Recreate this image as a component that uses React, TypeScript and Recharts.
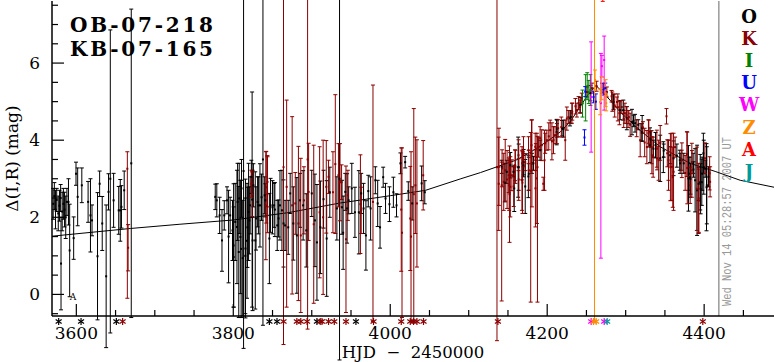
import React from 'react';
import { ComposedChart, Scatter, Line, XAxis, YAxis, ErrorBar, ReferenceLine } from 'recharts';

type Err = number | [number, number];
type Obs = [number, number, Err];

const X_DOMAIN: [number, number] = [3569, 4489];
const Y_DOMAIN: [number, number] = [-0.56, 7.61];

const X_MAJOR = [3600, 3800, 4000, 4200, 4400];
const X_MINOR = [3650, 3700, 3750, 3850, 3900, 3950, 4050, 4100, 4150, 4250, 4300, 4350, 4450];
const Y_MAJOR = [0, 2, 4, 6];
const Y_MINOR = [-0.5, 0.5, 1, 1.5, 2.5, 3, 3.5, 4.5, 5, 5.5, 6.5, 7, 7.5];

const TITLE_LINES = ['OB-07-218', 'KB-07-165'];
const X_LABEL = 'HJD  \u2212  2450000';
const Y_LABEL = '\u0394(I,R) (mag)';
const TIMESTAMP = 'Wed Nov 14 05:28:57 2007 UT';
const NOW_HJD = 4418.7;

const SERIES_KEYS = ['O', 'K', 'I', 'U', 'W', 'Z', 'A', 'J'];
const SERIES_COLORS: Record<string, string> = {
  O: '#000000', K: '#8b0000', I: '#008000', U: '#0000ff',
  W: '#ff00ff', Z: '#ff8c00', A: '#ff0000', J: '#009a9a',
};

// OGLE (O)
const OBS_O: Obs[] = [
  [3570.5, 2.35, 0.4], [3572, 2.55, 0.35], [3573.5, 2.2, 0.5], [3575, 2.45, 0.3], [3577, 2.1, 0.45],
  [3578.5, 2.3, 0.4], [3580, 2.5, 0.35], [3580.5, 0.8, 1.2], [3582, 2.15, 0.5], [3583.5, 2.35, 0.4],
  [3585, 2.2, 0.45], [3586.5, 2.0, 0.55], [3588, 2.4, 0.35], [3590, 2.4, 0.6], [3591.5, 1.14, 1.2],
  [3596.6, 1.46, 0.55], [3599.6, 3.13, 0.3], [3601.7, 2.53, 0.75], [3607, 2.83, 0.45], [3615, 2.4, 0.53],
  [3618, 2.05, 0.95], [3620, 1.92, 0.4], [3627, 0.99, 1.65], [3629.7, 2.87, 0.33], [3633, 1.84, 0.7],
  [3638, 0.47, 1.85], [3641, 2.66, 0.47], [3643.3, 3.0, [4.0, 3.86]], [3647.5, 2.44, 0.7], [3654, 2.18, 0.62],
  [3656, 2.18, 0.8], [3657.5, 2.27, 0.55], [3661, 2.7, 0.5], [3670, 3.4, 4.0],
  [3777, 2.53, 0.33], [3779, 2.44, 0.43], [3782.6, 2.05, 0.47], [3785.6, 1.4, 0.8], [3788.5, 2.05, 0.38],
  [3792, 2.44, 0.35], [3794, 1.5, 1.2], [3796, 2.05, 0.47], [3799, 1.66, 0.78], [3800.4, 1.27, 1.6],
  [3800.5, 0.97, 1.3], [3802.5, 1.88, 1.0], [3804.7, 1.75, 1.47], [3805.5, 2.4, 1.0], [3807, 1.1, 1.7],
  [3807.6, 2.49, 0.91], [3809, 1.49, 1.47], [3810, 1.18, 1.78], [3810.5, 2.75, 0.75], [3812, 0.94, 1.5],
  [3813.1, 3.2, 4.6], [3815.3, 1.0, 1.5], [3815.5, 1.19, 1.8], [3817.5, 1.39, 1.49], [3818, 1.74, 1.04],
  [3819.5, 2.14, 1.26], [3820.5, 1.92, 0.87], [3821.5, 2.31, 0.74], [3823, 3.05, 0.43], [3824, 2.46, 2.79],
  [3824.6, 1.4, 1.82], [3825.6, 2.83, 0.56], [3828, 1.4, 1.78], [3829, 1.97, 0.82], [3831, 2.4, 0.65],
  [3832, 2.31, 0.74], [3834, 2.31, 1.08], [3836, 2.52, 0.6], [3837.8, 3.5, 4.3], [3840, 2.57, 0.48],
  [3840.8, 2.44, 0.43], [3846, 1.45, 1.17], [3847.5, 2.31, 0.7], [3850, 2.26, 0.69], [3852, 2.31, 0.57],
  [3853, 2.2, 0.7], [3856, 1.79, 0.65], [3857.7, 1.97, 0.48], [3859.5, 2.31, 0.9], [3862, 2.18, 1.04],
  [3864, 1.84, 1.13], [3866, 1.79, 0.65], [3870, 1.74, 0.7], [3872.5, 2.62, 0.52],
  [3876.5, 1.84, 0.95], [3881, 1.53, 1.5], [3885, 2.44, 0.7], [3889, 2.31, 0.9], [3893, 1.66, 0.95],
  [3900, 2.62, 0.6], [3904, 1.92, 1.2], [3906.6, 1.35, 1.5], [3911, 1.74, 1.2], [3915, 2.47, 0.75],
  [3919, 1.45, 1.5], [3923, 2.65, 0.65], [3932, 2.23, 0.82], [3935.4, 3.0, 4.7], [3938.5, 2.26, 0.7],
  [3940, 1.6, 0.95], [3942.7, 2.66, 0.48], [3945, 2.23, 0.9], [3947, 2.44, 0.35], [3951, 2.75, 0.65],
  [3955, 2.13, 0.65], [3960, 2.13, 1.08], [3963, 2.62, 0.52], [3966, 2.23, 0.65], [3969, 1.53, 0.9],
  [3972, 2.68, 0.41], [3975, 2.23, 0.82], [3981, 2.96, 0.35], [3984, 2.36, 0.6], [3987, 1.74, 0.54],
  [3991, 3.04, 0.26], [3994, 2.49, 0.39], [3999, 2.34, 0.45], [4004, 2.65, 0.39], [4008, 2.31, 0.3],
  [4013, 3.4, 0.27], [4019, 3.43, 0.15], [4023, 2.68, 0.24], [4028, 2.36, 0.43], [4040, 2.88, 0.45],
  [4044, 2.65, 0.3],
  [4142, 3.31, 0.17], [4146, 2.9, 0.5], [4148.5, 3.18, 0.3], [4153, 3.35, 0.33], [4157, 3.18, 0.13],
  [4158, 2.75, 0.6], [4163, 3.3, 0.78], [4163.7, 3.3, 0.6], [4169.8, 3.35, 0.3], [4170, 3.43, 0.33],
  [4172, 2.8, 0.7], [4176, 3.06, 0.55], [4176.5, 3.13, 0.43], [4180.5, 3.4, 0.26], [4182.5, 3.4, 0.18],
  [4191, 3.74, 0.26], [4212, 4.21, 0.33], [4212.4, 4.3, 0.22], [4219, 4.31, 0.2], [4220.9, 4.3, 0.22],
  [4229, 4.57, 0.2], [4230, 4.6, 0.17], [4242, 4.91, 0.2], [4255, 5.22, 0.2], [4284.5, 4.99, 0.2],
  [4293, 4.78, 0.25], [4297, 4.78, 0.26], [4301.5, 4.57, 0.3], [4308, 4.47, 0.33], [4310, 4.5, 0.15],
  [4312, 4.44, 0.23], [4316, 4.4, 0.13], [4320.6, 4.2, 0.23], [4321, 4.31, 0.33], [4331, 3.87, 0.45],
  [4331.5, 4.02, 0.2], [4335.4, 3.78, 0.22], [4338, 3.87, 0.33], [4344, 3.53, 0.6], [4348, 3.56, 0.4],
  [4348.5, 3.73, 0.17], [4356.7, 3.61, 0.22], [4361, 3.53, 0.45], [4365.2, 3.6, 0.3], [4369, 3.48, 0.26],
  [4369.4, 3.4, 0.26], [4374, 3.4, 0.26], [4380, 3.01, 0.85], [4380.5, 3.13, 0.43], [4382, 3.04, 0.52],
  [4382.5, 3.0, 0.4], [4386, 3.4, 0.26], [4386.4, 3.24, 0.2], [4388.5, 2.96, 0.82], [4391, 2.7, 1.17],
  [4393, 2.87, 0.43], [4395, 2.91, 0.72], [4395.5, 2.74, 0.65], [4397, 2.91, 0.6], [4397.5, 3.13, 0.43],
  [4399, 3.66, 0.52], [4399.5, 3.3, 0.7], [4401.3, 3.26, 0.22], [4403, 2.78, 1.13], [4403.4, 2.83, 1.0],
  [4405.5, 3.05, 0.26],
];

// K
const OBS_K: Obs[] = [
  [3665, 3.26, [3.36, 0.44]], [3666, 1.21, 0.6],
  [3823, 2.87, 0.35], [3824, 2.6, 0.58], [3841.5, 2.3, 1.4], [3842, 2.78, 0.93], [3843.5, 2.6, 1.0],
  [3843.6, 2.92, 0.65], [3864, 3.3, 4.6], [3868, 2.79, [3.12, 2.25]],
  [3875, 2.31, 2.3], [3879, 2.36, 0.8], [3883, 1.84, 2.0], [3886, 1.53, 2.0], [3890, 2.44, 0.87],
  [3894.7, 3.5, 4.4], [3896, 2.66, 1.26], [3902.5, 1.82, 2.05], [3910, 2.13, 1.7], [3914.5, 2.0, 2.0],
  [3918.5, 2.79, 1.2], [3921.4, 3.05, 0.43], [3927, 2.65, 1.05], [3930, 3.38, 1.8], [3934, 3.09, 0.82],
  [3936, 2.91, 1.0], [3938, 2.91, 0.45], [3943.6, 1.43, 1.9], [3946, 2.57, 0.65], [3962, 2.34, 1.28],
  [3963, 2.18, 0.6], [3978, 2.4, [3.1, 3.03]], [4014, 2.2, 1.6], [4015, 1.6, 2.2], [4025.5, 1.97, 1.35],
  [4026.5, 1.5, 2.2], [4030, 2.6, [3.3, 2.22]], [4032, 2.83, 1.25], [4034, 2.36, 1.65], [4042, 3.09, 0.9],
  [4136, 3.3, [4.5, 4.6]], [4138.2, 2.87, 1.21], [4138.5, 3.31, 1.0], [4142, 2.83, [3.0, 0.6]],
  [4142.5, 3.27, 0.48], [4144.6, 2.92, 0.74], [4146.5, 3.22, 0.8], [4148.9, 2.98, 0.75], [4151, 3.09, 0.45],
  [4151.5, 2.83, 0.65], [4152, 2.6, 1.25], [4153, 2.79, 0.78], [4155, 3.09, 0.4], [4157.3, 2.8, 0.52],
  [4159, 3.35, 0.4], [4159.5, 3.31, 0.43], [4163.4, 3.61, 0.4], [4163.7, 2.98, 0.54], [4167.8, 2.96, 0.78],
  [4168, 3.4, 0.43], [4168.5, 2.9, 0.8], [4169.8, 3.7, 0.39], [4172, 3.43, 0.22], [4176.2, 3.74, 0.35],
  [4176.5, 3.22, 0.52], [4179, 3.2, [3.4, 1.0]], [4180, 3.87, 0.65], [4180.5, 3.4, 1.13], [4184.7, 3.83, 0.35],
  [4185, 2.75, 1.0], [4185.5, 3.56, 0.35], [4186.9, 3.01, 1.17], [4187.6, 3.3, [3.5, 0.8]], [4189, 3.82, 0.26],
  [4191, 4.05, 0.3], [4193, 3.87, 0.4], [4195, 2.87, 0.17], [4196.6, 3.48, 0.78], [4197.5, 3.92, 0.26],
  [4199.6, 4.0, 0.26], [4202, 4.1, 0.35], [4203.8, 4.26, 0.26], [4206, 3.97, 0.48], [4208, 4.0, 0.35],
  [4210, 4.13, 0.22], [4212.4, 4.17, 0.26], [4214, 4.31, 0.22], [4218, 4.34, 0.26], [4223, 4.0, 0.52],
  [4225, 4.56, 0.3], [4227, 4.6, 0.17], [4231.5, 4.7, 0.26], [4232, 4.74, 0.22], [4236, 4.88, 0.2],
  [4237.8, 4.78, 0.18], [4240, 4.96, 0.17], [4242, 4.87, 0.17], [4244, 5.09, 0.13], [4250.6, 5.25, 0.13],
  [4257, 5.35, 0.13], [4263, 5.4, 0.13], [4270, 5.35, 0.13], [4276, 5.25, 0.13], [4282, 5.14, 0.15],
  [4283, 5.0, 0.25], [4286, 4.9, 0.3], [4289, 4.99, 0.13], [4290, 4.85, 0.35], [4292, 4.7, 0.3],
  [4295, 4.86, 0.17], [4297.5, 4.55, 0.22], [4299, 4.7, 0.26], [4301, 4.65, 0.22], [4303, 4.55, 0.22],
  [4304, 4.6, 0.17], [4305.7, 4.4, 0.3], [4314, 4.31, 0.22], [4318.5, 4.0, 0.43], [4322, 4.33, 0.15],
  [4324.2, 3.94, 0.37], [4327, 3.82, 0.43], [4329, 4.18, 0.35], [4329.5, 4.22, 0.3], [4333, 3.82, 0.43],
  [4333.4, 3.61, 0.48], [4335, 3.56, 0.52], [4339.7, 3.78, 0.48], [4340, 3.53, 0.3], [4342, 3.48, 0.52],
  [4344, 3.93, 0.45], [4352, 4.62, 0.2], [4353, 3.66, 0.35], [4354.5, 3.48, 0.52], [4354.6, 3.35, 0.65],
  [4357, 3.3, 0.87], [4358.8, 3.31, 0.87], [4360, 3.04, 0.78], [4361, 3.18, 1.0], [4363, 3.82, 0.26],
  [4371.5, 3.48, 0.26], [4371.6, 3.48, 0.45], [4375.8, 3.15, 0.45], [4378, 3.64, 0.58], [4378.5, 3.28, 0.93],
  [4382.2, 2.83, 0.47], [4384.3, 3.22, 0.7], [4384.5, 3.43, 0.3], [4390.7, 2.74, 1.08], [4393, 2.49, 0.91],
  [4393.2, 2.43, 0.82], [4401, 3.53, 0.4], [4407, 3.14, 0.43], [4407.6, 2.92, 0.39],
];

const OBS_I: Obs[] = [[4245, 4.95, 0.35], [4249, 5.1, 0.6], [4251, 5.4, 0.35], [4253, 5.25, 0.3], [4255, 5.3, 0.4]];
const OBS_U: Obs[] = [[4247.5, 4.07, 0.2], [4248.5, 5.26, 0.13], [4259, 5.12, 0.15], [4262, 5.0, 0.2], [4271.7, 5.32, 0.15], [4274, 5.35, 0.13]];
const OBS_W: Obs[] = [[4256, 5.12, 1.43], [4268.4, 4.96, [4.02, 1.29]], [4269.7, 5.92, 0.28], [4272.6, 6.08, [1.3, 0.62]]];
const OBS_Z: Obs[] = [[4260.3, 5.3, [6.0, 3.0]], [4261, 5.56, 0.26], [4267.5, 4.99, 0.33], [4269.5, 5.35, 0.3], [4274.5, 5.22, 0.35], [4275.2, 4.96, 0.2]];
const OBS_A: Obs[] = [[4270.8, 7.72, 0.12]];
const OBS_J: Obs[] = [];

// dates of points falling off the plotted range (asterisks under the axis)
const OFFSCALE_DATES: number[] = [3577.5, 3606, 3651, 3659, 3846, 3855.7, 3864, 3881, 3886, 3894, 3906.6, 3910.8, 3913,
  3921.4, 3928.7, 3943.6, 3956.3, 3978.7, 4014, 4025.5, 4029.7, 4034, 4042.4, 4137.2, 4256, 4259, 4262.4, 4272.6, 4276.4, 4398.3];
const OFFSCALE_SERIES: string[] = ['O', 'O', 'O', 'K', 'O', 'O', 'K', 'K', 'K', 'K', 'O', 'K', 'K',
  'K', 'K', 'K', 'O', 'K', 'K', 'K', 'K', 'K', 'K', 'K', 'W', 'Z', 'Z', 'W', 'J', 'K'];

// point-lens model curve
const MODEL: [number, number][] = [
  [3569, 1.51], [3669, 1.71], [3732, 1.82], [3800, 1.93], [3870, 2.12], [3936, 2.37], [4000, 2.56],
  [4045, 2.7], [4090, 3.0], [4115, 3.16], [4136, 3.31], [4160, 3.48], [4178, 3.68], [4200, 3.97],
  [4217, 4.22], [4230, 4.5], [4242, 4.87], [4252, 5.18], [4262, 5.42], [4270, 5.26], [4280, 5.04],
  [4293, 4.73], [4318, 4.26], [4344, 3.83], [4382, 3.4], [4414, 3.19], [4446, 2.96], [4489, 2.78],
];

const SERIES_DATA: Record<string, Obs[]> = { O: OBS_O, K: OBS_K, I: OBS_I, U: OBS_U, W: OBS_W, Z: OBS_Z, A: OBS_A, J: OBS_J };
const toRows = (a: Obs[]) => a.map(([t, m, e]) => ({ t, m, e }));
const modelRows = MODEL.map(([t, m]) => ({ t, m }));

const SERIF = '"DejaVu Serif", serif';
const BOTTOM_TICKS = [...X_MAJOR, ...X_MINOR, ...OFFSCALE_DATES];

const renderBottomTick = (p: any) => {
  const { x, y, payload } = p;
  const v = payload.value;
  if (X_MAJOR.includes(v)) {
    return (
      <g>
        <line x1={x} x2={x} y1={y} y2={y - 12} stroke="#000" strokeWidth={1.2} />
        <text x={x} y={y + 22.5} textAnchor="middle" fontSize={17} fontFamily={SERIF} fill="#000">{v}</text>
      </g>
    );
  }
  if (X_MINOR.includes(v)) return <line x1={x} x2={x} y1={y} y2={y - 6} stroke="#000" strokeWidth={1.2} />;
  const idx = OFFSCALE_DATES.indexOf(v);
  const c = SERIES_COLORS[OFFSCALE_SERIES[idx]] || '#000';
  return (
    <g stroke={c} strokeWidth={1.2}>
      <line x1={x} x2={x} y1={y + 2} y2={y + 9} />
      <line x1={x - 3} x2={x + 3} y1={y + 3.5} y2={y + 7.5} />
      <line x1={x - 3} x2={x + 3} y1={y + 7.5} y2={y + 3.5} />
    </g>
  );
};

const renderTopTick = (p: any) => {
  const { x, y, payload } = p;
  const len = X_MAJOR.includes(payload.value) ? 12 : 6;
  return <line x1={x} x2={x} y1={y} y2={y + len} stroke="#000" strokeWidth={1.2} />;
};

const renderLeftTick = (p: any) => {
  const { x, y, payload } = p;
  const v = payload.value;
  if (Y_MAJOR.includes(v)) {
    return (
      <g>
        <line x1={x} x2={x + 12} y1={y} y2={y} stroke="#000" strokeWidth={1.2} />
        <text x={x - 12} y={y + 6} textAnchor="end" fontSize={17} fontFamily={SERIF} fill="#000">{v}</text>
      </g>
    );
  }
  return <line x1={x} x2={x + 6} y1={y} y2={y} stroke="#000" strokeWidth={1.2} />;
};

const renderRightTick = (p: any) => {
  const { x, y, payload } = p;
  const len = Y_MAJOR.includes(payload.value) ? 12 : 6;
  return <line x1={x} x2={x - len} y1={y} y2={y} stroke="#000" strokeWidth={1.2} />;
};

const renderXLabel = (p: any) => {
  const vb = p.viewBox || { x: 52, y: 316, width: 722, height: 46 };
  return (
    <text x={vb.x + vb.width / 2} y={vb.y + 41.5} textAnchor="middle" fontSize={16.5} fontFamily={SERIF} fill="#000" style={{ whiteSpace: 'pre' }}>
      {X_LABEL}
    </text>
  );
};

const renderYLabel = (p: any) => {
  const vb = p.viewBox || { x: 0, y: 1, width: 52, height: 315 };
  const cx = vb.x + 18;
  const cy = vb.y + vb.height / 2;
  return (
    <text x={cx} y={cy} transform={`rotate(-90, ${cx}, ${cy})`} textAnchor="middle" fontSize={17} fontFamily={SERIF} fill="#000">
      {Y_LABEL}
    </text>
  );
};

const renderStamp = (p: any) => {
  const vb = p.viewBox || { x: 719, y: 1, width: 0, height: 315 };
  const bx = vb.x + 12;
  const by = vb.y + vb.height - 10;
  return (
    <text x={bx} y={by} transform={`rotate(-90, ${bx}, ${by})`} fontSize={12} fontFamily='"Liberation Mono", monospace'
      fill="#999" textLength={169} lengthAdjust="spacingAndGlyphs">
      {TIMESTAMP}
    </text>
  );
};

const makeShape = (color: string) => (p: any) => (
  <rect x={p.cx - 1} y={p.cy - 1} width={2} height={2} fill={color} />
);

export default function App() {
  return (
    <div style={{ position: 'absolute', left: 0, top: 0, width: 775, height: 362, background: '#fff' }}>
      <ComposedChart width={775} height={362} margin={{ top: 1, right: 1, bottom: 0, left: 0 }}>
        <XAxis xAxisId="b" dataKey="t" type="number" domain={X_DOMAIN} allowDataOverflow ticks={BOTTOM_TICKS}
          interval={0} tickSize={0} tickMargin={0} tickLine={false} height={46}
          axisLine={{ stroke: '#000', strokeWidth: 1.5 }} tick={renderBottomTick} label={renderXLabel} />
        <XAxis xAxisId="t" orientation="top" type="number" domain={X_DOMAIN} allowDataOverflow
          ticks={[...X_MAJOR, ...X_MINOR]} interval={0} tickSize={0} tickMargin={0} tickLine={false} height={0}
          axisLine={{ stroke: '#000', strokeWidth: 2 }} tick={renderTopTick} />
        <YAxis yAxisId="l" dataKey="m" type="number" domain={Y_DOMAIN} allowDataOverflow
          ticks={[...Y_MAJOR, ...Y_MINOR]} interval={0} tickSize={0} tickMargin={0} tickLine={false} width={52}
          axisLine={{ stroke: '#000', strokeWidth: 1.5 }} tick={renderLeftTick} label={renderYLabel} />
        <YAxis yAxisId="r" orientation="right" type="number" domain={Y_DOMAIN} allowDataOverflow
          ticks={[...Y_MAJOR, ...Y_MINOR]} interval={0} tickSize={0} tickMargin={0} tickLine={false} width={0}
          axisLine={{ stroke: '#000', strokeWidth: 1.5 }} tick={renderRightTick} />
        <ReferenceLine xAxisId="b" yAxisId="l" x={NOW_HJD} stroke="#999" strokeWidth={1.5} label={renderStamp} />
        <Line xAxisId="b" yAxisId="l" data={modelRows} dataKey="m" type="linear" dot={false} stroke="#000"
          strokeWidth={1} isAnimationActive={false} />
        {SERIES_KEYS.map((k) => (
          <Scatter key={k} name={k} xAxisId="b" yAxisId="l" data={toRows(SERIES_DATA[k])} dataKey="m"
            fill={SERIES_COLORS[k]} shape={makeShape(SERIES_COLORS[k])} isAnimationActive={false}>
            <ErrorBar dataKey="e" direction="y" width={2} stroke={SERIES_COLORS[k]} strokeWidth={1} />
          </Scatter>
        ))}
      </ComposedChart>
      <svg width={775} height={362} style={{ position: 'absolute', left: 0, top: 0, pointerEvents: 'none' }}>
        <text x={70} y={32} fontSize={20} fontWeight="bold" fontFamily={SERIF} fill="#000" textLength={143} lengthAdjust="spacing">{TITLE_LINES[0]}</text>
        <text x={70} y={56} fontSize={20} fontWeight="bold" fontFamily={SERIF} fill="#000" textLength={143} lengthAdjust="spacing">{TITLE_LINES[1]}</text>
        {SERIES_KEYS.map((k, i) => (
          <text key={k} x={749} y={23 + i * 22.1} textAnchor="middle" fontSize={18} fontWeight="bold" fontFamily={SERIF}
            fill={SERIES_COLORS[k]}>{k}</text>
        ))}
        <text x={73} y={300} textAnchor="middle" fontSize={9} fontFamily={SERIF} fill="#000">A</text>
      </svg>
    </div>
  );
}
